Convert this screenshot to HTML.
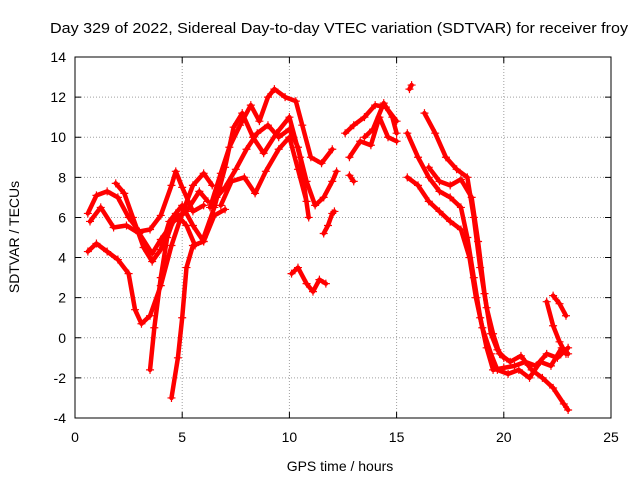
<!DOCTYPE html>
<html><head><meta charset="utf-8"><style>
body{margin:0;background:#fff}
svg{display:block;font-family:"Liberation Sans",sans-serif}
</style></head><body>
<svg id="chart" width="640" height="480">
<rect width="640" height="480" fill="#fff"/>
<g id="grid"></g>
<g id="series"></g>
<rect x="75" y="57" width="536" height="361" fill="none" stroke="#000" stroke-width="1"/>
<g id="ticks"></g>
<text x="339" y="33" text-anchor="middle" font-size="15" textLength="578" lengthAdjust="spacingAndGlyphs">Day 329 of 2022, Sidereal Day-to-day VTEC variation (SDTVAR) for receiver froy</text>
<text x="340" y="471" text-anchor="middle" font-size="14">GPS time / hours</text>
<text transform="translate(19,237) rotate(-90)" text-anchor="middle" font-size="14">SDTVAR / TECUs</text>
</svg>
<script>
const xTicks=[0,5,10,15,20,25];
const yTicks=[-4,-2,0,2,4,6,8,10,12,14];
const track1=[[0.6,4.3],[1,4.7],[1.5,4.3],[2,3.9],[2.5,3.2],[2.8,1.4],[3.1,0.7],[3.5,1.1],[4,2.6],[4.5,4.6],[5,6.2],[5.5,7.6],[6,8.2],[6.4,7.6]];
const track2=[[0.6,6.2],[1,7.1],[1.5,7.3],[2,7.0],[2.5,6.0],[3,5.3],[3.5,5.4],[4,6.1],[4.5,7.6],[4.7,8.3],[5,7.5],[5.5,6.3],[6,6.6]];
const track3=[[0.7,5.8],[1.2,6.5],[1.8,5.5],[2.4,5.6],[3,5.2],[3.6,4.2],[4,4.9],[4.6,5.8],[5.2,6.3],[5.8,7.3],[6.2,6.8]];
const track4=[[1.9,7.7],[2.3,7.2],[2.7,6.0],[3.2,4.5],[3.6,3.8],[4.0,4.4],[4.4,5.8],[5,6.6],[5.5,5.6],[6,4.8]];
const track5=[[3.5,-1.6],[3.7,0.5],[4.0,3.0],[4.3,5.0],[4.7,6.2],[5.2,5.6],[5.6,4.6]];
const track6=[[4.5,-3.0],[4.8,-1.0],[5.0,1.0],[5.2,3.5],[5.5,4.6],[6.0,4.8],[6.5,6.1],[7,6.4]];
const track7=[[6,5.0],[6.5,6.5],[7,8.5],[7.4,10.5],[7.8,11.2],[8.3,10.0],[8.8,9.2],[9.4,10.2],[10,11.0],[10.5,9.0],[10.9,6.0]];
const track8=[[6.3,6.5],[6.8,8.2],[7.2,9.5],[7.7,10.6],[8.2,11.6],[8.6,10.8],[9,12.0],[9.3,12.4],[9.8,12.0],[10.3,11.8],[10.6,10.6],[11,9.0],[11.5,8.7],[12,9.4]];
const track9=[[6.6,7.0],[7.0,7.5],[7.5,8.4],[8,9.4],[8.5,10.2],[9,10.6],[9.5,10.0],[10,10.4],[10.4,9.5],[10.8,7.8],[11.2,6.6],[11.6,7.0],[12,7.8],[12.2,8.3]];
const track10=[[6.8,6.6],[7.3,7.8],[7.9,8.0],[8.4,7.2],[8.9,8.3],[9.5,9.4],[10,10.0],[10.4,8.4],[10.8,6.8]];
const track11=[[11.6,5.2],[11.8,5.6],[12,6.2],[12.1,6.3]];
const track12=[[10.1,3.2],[10.4,3.5],[10.8,2.7],[11.1,2.3],[11.4,2.9],[11.7,2.7]];
const track13=[[12.8,8.1],[13,7.8]];
const track14=[[12.6,10.2],[13,10.6],[13.5,11.0],[14,11.6],[14.5,11.5],[15,10.8]];
const track15=[[12.8,9.0],[13.3,9.8],[13.8,9.6],[14.2,11.0],[14.6,10.0],[15,9.8]];
const track16=[[13.5,10.0],[13.9,10.4],[14.4,11.7],[14.8,11.0],[15,10.2]];
const track17=[[15.6,12.4],[15.7,12.6]];
const track18=[[15.5,10.2],[16,9.0],[16.5,8.0],[17,7.3],[17.5,7.0],[18,6.5],[18.3,5.0],[18.6,3.0],[18.9,1.0],[19.2,-0.5],[19.5,-1.6],[20,-1.5],[20.5,-1.4],[21,-1.2],[21.5,-1.4],[22,-0.8],[22.5,-1.0],[23,-0.5]];
const track19=[[15.5,8.0],[16,7.6],[16.5,6.8],[17,6.3],[17.5,5.8],[18,5.4],[18.4,4.0],[18.7,2.0],[19,0.5],[19.4,-0.8],[19.7,-1.6],[20.2,-1.8],[20.7,-1.6],[21.2,-2.0],[21.7,-1.2],[22.2,-1.4],[22.7,-0.5],[23,-0.8]];
const track20=[[16.3,11.2],[16.8,10.2],[17.3,9.0],[17.8,8.4],[18.3,8.0],[18.6,6.0],[18.9,3.5],[19.2,1.5],[19.5,0.2],[19.8,-0.8],[20.3,-1.2],[20.8,-0.9],[21.3,-1.6],[21.8,-2.0],[22.3,-2.5],[22.8,-3.3],[23,-3.6]];
const track21=[[16.5,8.5],[17,7.8],[17.5,7.6],[18,7.9],[18.5,7.0],[18.8,4.8],[19.1,2.2],[19.4,0.2],[19.7,-0.6],[20,-1.0]];
const track22=[[22.0,1.8],[22.3,0.6],[22.6,-0.2],[22.9,-0.8]];
const track23=[[22.3,2.1],[22.6,1.7],[22.9,1.1]];
const tracks=[track1,track2,track3,track4,track5,track6,track7,track8,track9,track10,track11,track12,track13,track14,track15,track16,track17,track18,track19,track20,track21,track22,track23];

const NS='http://www.w3.org/2000/svg';
const X0=75,X1=611,Y0=418,Y1=57;
const xs=v=>X0+(v-0)/(25-0)*(X1-X0);
const ys=v=>Y0-(v+4)/(14+4)*(Y0-Y1);
const grid=document.getElementById('grid'),ticks=document.getElementById('ticks'),ser=document.getElementById('series');
function mk(tag,attrs,parent){const e=document.createElementNS(NS,tag);for(const k in attrs)e.setAttribute(k,attrs[k]);parent.appendChild(e);return e;}
xTicks.forEach(t=>{const x=xs(t);
 if(t>0&&t<25){const g=mk('line',{x1:x,x2:x,y1:Y0,y2:Y1,stroke:'#a0a0a0','stroke-dasharray':'1,2'},grid);
 
 }
 const tm=mk('path',{d:`M${x},${Y0}v-6M${x},${Y1}v6`,stroke:'#000'},ticks);
 
 
 const lb=mk('text',{x:x,y:Y0+24,'text-anchor':'middle','font-size':'14'},ticks);lb.textContent=t;
 
 });
yTicks.forEach(t=>{const y=ys(t);
 if(t>-4&&t<14){const g=mk('line',{x1:X0,x2:X1,y1:y,y2:y,stroke:'#a0a0a0','stroke-dasharray':'1,2'},grid);
 
 }
 const tm=mk('path',{d:`M${X0},${y}h6M${X1},${y}h-6`,stroke:'#000'},ticks);
 
 
 const lb=mk('text',{x:X0-9,y:y+5,'text-anchor':'end','font-size':'14'},ticks);lb.textContent=t;
 
 });
tracks.forEach((tr,i)=>{
 const pl=mk('polyline',{points:tr.map(p=>xs(p[0])+','+ys(p[1])).join(' '),fill:'none',stroke:'#f00','stroke-width':'4.5','stroke-linejoin':'round','stroke-linecap':'round'},ser);
 
 
 let d='';tr.forEach(p=>{const x=xs(p[0]),y=ys(p[1]);d+=`M${x-4},${y}h8M${x},${y-4}v8`;});
 const m=mk('path',{d:d,stroke:'#f00','stroke-width':'1.2'},ser);
 
 
});
</script>
</body></html>
